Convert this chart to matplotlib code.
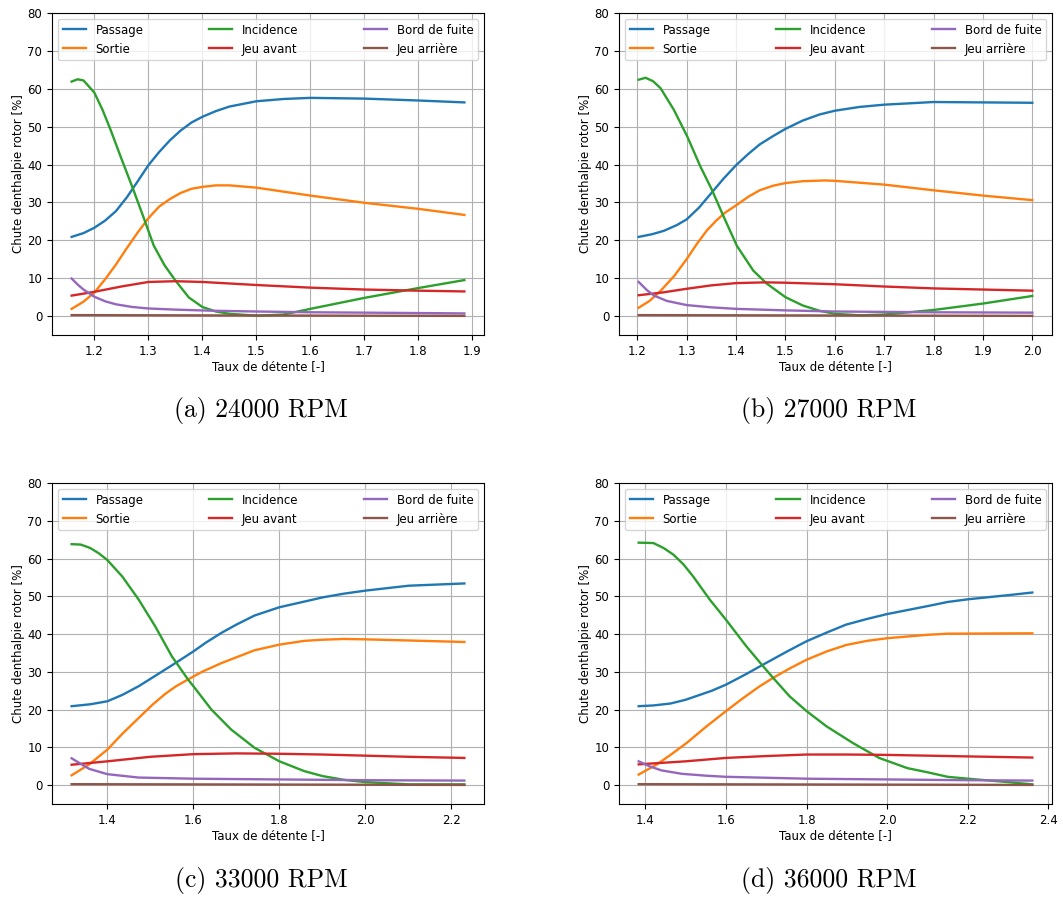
import matplotlib
matplotlib.use("Agg")
import matplotlib.pyplot as plt

W, H = 1063, 898

labels = ["Passage", "Sortie", "Incidence", "Jeu avant", "Bord de fuite", "Jeu arrière"]
colors = ["#1f77b4", "#ff7f0e", "#2ca02c", "#d62728", "#9467bd", "#8c564b"]

# ---- (a) 24000 RPM ----
a_pass_x = [1.158, 1.18, 1.2, 1.22, 1.24, 1.26, 1.28, 1.30, 1.32, 1.34, 1.36, 1.38, 1.40, 1.425, 1.45, 1.5, 1.55, 1.6, 1.7, 1.8, 1.885]
a_pass_y = [20.9, 21.9, 23.3, 25.2, 27.7, 31.3, 35.5, 39.8, 43.3, 46.4, 49.0, 51.1, 52.6, 54.1, 55.3, 56.7, 57.3, 57.6, 57.4, 56.9, 56.4]
a_sort_x = [1.158, 1.18, 1.2, 1.22, 1.24, 1.26, 1.28, 1.30, 1.32, 1.34, 1.36, 1.38, 1.40, 1.425, 1.45, 1.5, 1.6, 1.7, 1.8, 1.885]
a_sort_y = [1.9, 3.8, 6.2, 9.7, 13.6, 17.9, 22.0, 25.8, 28.9, 30.9, 32.5, 33.6, 34.1, 34.5, 34.5, 33.9, 31.8, 29.9, 28.3, 26.7]
a_inc_x = [1.158, 1.169, 1.18, 1.2, 1.215, 1.23, 1.25, 1.27, 1.29, 1.31, 1.33, 1.35, 1.375, 1.40, 1.425, 1.45, 1.5, 1.55, 1.6, 1.7, 1.8, 1.885]
a_inc_y = [61.9, 62.5, 62.2, 59.0, 54.5, 49.2, 41.6, 34.2, 26.5, 18.6, 13.4, 9.4, 4.9, 2.4, 1.2, 0.6, 0.1, 0.4, 1.9, 4.8, 7.4, 9.5]
a_jav_x = [1.158, 1.2, 1.25, 1.3, 1.35, 1.4, 1.5, 1.6, 1.7, 1.8, 1.885]
a_jav_y = [5.4, 6.4, 7.8, 9.0, 9.2, 9.0, 8.2, 7.5, 7.0, 6.7, 6.5]
a_bdf_x = [1.158, 1.17, 1.18, 1.2, 1.22, 1.24, 1.27, 1.3, 1.35, 1.42, 1.5, 1.6, 1.7, 1.885]
a_bdf_y = [9.9, 8.2, 7.0, 5.1, 3.9, 3.1, 2.4, 2.0, 1.7, 1.4, 1.2, 1.0, 0.9, 0.7]
a_jar_x = [1.158, 1.5, 1.885]
a_jar_y = [0.25, 0.15, 0.05]

# ---- (b) 27000 RPM ----
b_pass_x = [1.203, 1.23, 1.254, 1.28, 1.3, 1.325, 1.351, 1.375, 1.4, 1.425, 1.448, 1.475, 1.5, 1.535, 1.569, 1.6, 1.65, 1.7, 1.8, 1.9, 2.0]
b_pass_y = [20.9, 21.6, 22.5, 24.0, 25.5, 28.6, 32.6, 36.3, 39.8, 42.8, 45.3, 47.5, 49.4, 51.6, 53.2, 54.2, 55.2, 55.8, 56.5, 56.4, 56.3]
b_sort_x = [1.203, 1.225, 1.247, 1.275, 1.3, 1.32, 1.341, 1.36, 1.378, 1.4, 1.425, 1.448, 1.475, 1.5, 1.535, 1.58, 1.6, 1.7, 1.8, 1.9, 2.0]
b_sort_y = [2.2, 4.0, 6.6, 10.6, 15.0, 18.9, 22.6, 25.2, 27.3, 29.2, 31.5, 33.2, 34.4, 35.1, 35.6, 35.8, 35.7, 34.7, 33.2, 31.8, 30.6]
b_inc_x = [1.203, 1.217, 1.232, 1.247, 1.274, 1.301, 1.3275, 1.351, 1.3745, 1.402, 1.435, 1.462, 1.5, 1.535, 1.569, 1.6, 1.65, 1.7, 1.8, 1.9, 2.0]
b_inc_y = [62.4, 62.9, 62.0, 60.2, 54.5, 47.5, 39.6, 33.4, 26.4, 18.5, 12.0, 8.6, 5.0, 2.8, 1.4, 0.6, 0.2, 0.4, 1.6, 3.3, 5.3]
b_jav_x = [1.203, 1.25, 1.3, 1.35, 1.4, 1.46, 1.5, 1.6, 1.7, 1.8, 1.9, 2.0]
b_jav_y = [5.5, 6.2, 7.2, 8.1, 8.7, 8.9, 8.8, 8.4, 7.8, 7.3, 7.0, 6.7]
b_bdf_x = [1.203, 1.22, 1.234, 1.26, 1.3, 1.35, 1.4, 1.5, 1.6, 1.8, 2.0]
b_bdf_y = [9.0, 6.8, 5.4, 4.0, 2.9, 2.3, 1.9, 1.5, 1.2, 1.0, 0.9]
b_jar_x = [1.203, 1.6, 2.0]
b_jar_y = [0.25, 0.15, 0.05]

# ---- (c) 33000 RPM ----
c_pass_x = [1.317, 1.36, 1.4, 1.435, 1.473, 1.515, 1.558, 1.6, 1.63, 1.665, 1.7, 1.742, 1.8, 1.858, 1.9, 1.95, 2.0, 2.1, 2.23]
c_pass_y = [20.9, 21.4, 22.2, 23.9, 26.2, 29.2, 32.3, 35.4, 37.8, 40.3, 42.5, 44.9, 47.1, 48.6, 49.7, 50.7, 51.5, 52.8, 53.4]
c_sort_x = [1.317, 1.358, 1.4, 1.435, 1.473, 1.505, 1.535, 1.56, 1.588, 1.62, 1.665, 1.742, 1.8, 1.858, 1.9, 1.95, 2.0, 2.1, 2.23]
c_sort_y = [2.6, 5.5, 9.4, 13.6, 17.8, 21.3, 24.2, 26.2, 28.0, 30.0, 32.3, 35.7, 37.2, 38.2, 38.5, 38.7, 38.6, 38.3, 37.9]
c_inc_x = [1.317, 1.338, 1.36, 1.38, 1.4, 1.435, 1.473, 1.5115, 1.55, 1.588, 1.6, 1.642, 1.688, 1.742, 1.8, 1.858, 1.9, 1.95, 2.0, 2.1, 2.23]
c_inc_y = [63.8, 63.7, 62.8, 61.4, 59.6, 55.2, 49.1, 42.0, 34.1, 27.9, 26.2, 20.0, 14.7, 9.9, 6.3, 3.7, 2.4, 1.4, 0.8, 0.2, 0.2]
c_jav_x = [1.317, 1.4, 1.5, 1.6, 1.7, 1.8, 1.9, 2.0, 2.1, 2.23]
c_jav_y = [5.4, 6.3, 7.5, 8.2, 8.4, 8.3, 8.1, 7.8, 7.5, 7.2]
c_bdf_x = [1.317, 1.34, 1.358, 1.4, 1.473, 1.6, 1.8, 2.0, 2.23]
c_bdf_y = [7.1, 5.5, 4.3, 2.9, 2.0, 1.7, 1.5, 1.3, 1.2]
c_jar_x = [1.317, 1.8, 2.23]
c_jar_y = [0.25, 0.15, 0.05]

# ---- (d) 36000 RPM ----
d_pass_x = [1.3835, 1.42, 1.462, 1.5, 1.565, 1.6, 1.65, 1.692, 1.75, 1.8, 1.85, 1.898, 1.95, 2.0, 2.1, 2.15, 2.2, 2.3, 2.36]
d_pass_y = [20.9, 21.1, 21.6, 22.6, 25.0, 26.6, 29.4, 31.9, 35.3, 38.1, 40.4, 42.5, 44.0, 45.3, 47.4, 48.5, 49.2, 50.3, 51.0]
d_sort_x = [1.3835, 1.429, 1.465, 1.503, 1.55, 1.6, 1.642, 1.684, 1.717, 1.76, 1.8, 1.85, 1.898, 1.95, 2.0, 2.1, 2.15, 2.36]
d_sort_y = [2.8, 5.5, 8.2, 11.2, 15.4, 19.6, 23.0, 26.2, 28.4, 31.0, 33.2, 35.4, 37.1, 38.2, 38.9, 39.8, 40.1, 40.2]
d_inc_x = [1.3835, 1.42, 1.445, 1.47, 1.495, 1.519, 1.56, 1.6, 1.651, 1.692, 1.717, 1.758, 1.8, 1.849, 1.914, 1.98, 2.05, 2.1, 2.15, 2.2, 2.3, 2.36]
d_inc_y = [64.2, 64.1, 62.8, 61.0, 58.4, 55.2, 49.1, 43.8, 36.7, 31.5, 28.4, 23.5, 19.6, 15.6, 11.2, 7.2, 4.5, 3.4, 2.2, 1.7, 0.8, 0.2]
d_jav_x = [1.3835, 1.5, 1.6, 1.7, 1.8, 1.9, 2.0, 2.1, 2.2, 2.36]
d_jav_y = [5.5, 6.3, 7.2, 7.7, 8.1, 8.1, 8.0, 7.8, 7.6, 7.3]
d_bdf_x = [1.3835, 1.41, 1.44, 1.49, 1.55, 1.6, 1.8, 2.0, 2.2, 2.36]
d_bdf_y = [6.3, 5.0, 3.9, 3.0, 2.5, 2.2, 1.7, 1.5, 1.3, 1.2]
d_jar_x = [1.3835, 1.9, 2.36]
d_jar_y = [0.25, 0.15, 0.05]

captions = ["(a) 24000 RPM", "(b) 27000 RPM", "(c) 33000 RPM", "(d) 36000 RPM"]
xticks_a = [1.2, 1.3, 1.4, 1.5, 1.6, 1.7, 1.8, 1.9]
xticks_b = [1.2, 1.3, 1.4, 1.5, 1.6, 1.7, 1.8, 1.9, 2.0]
xticks_c = [1.4, 1.6, 1.8, 2.0, 2.2]
xticks_d = [1.4, 1.6, 1.8, 2.0, 2.2, 2.4]
yticks = [0, 10, 20, 30, 40, 50, 60, 70, 80]

panels = [
    [(a_pass_x, a_pass_y), (a_sort_x, a_sort_y), (a_inc_x, a_inc_y), (a_jav_x, a_jav_y), (a_bdf_x, a_bdf_y), (a_jar_x, a_jar_y)],
    [(b_pass_x, b_pass_y), (b_sort_x, b_sort_y), (b_inc_x, b_inc_y), (b_jav_x, b_jav_y), (b_bdf_x, b_bdf_y), (b_jar_x, b_jar_y)],
    [(c_pass_x, c_pass_y), (c_sort_x, c_sort_y), (c_inc_x, c_inc_y), (c_jav_x, c_jav_y), (c_bdf_x, c_bdf_y), (c_jar_x, c_jar_y)],
    [(d_pass_x, d_pass_y), (d_sort_x, d_sort_y), (d_inc_x, d_inc_y), (d_jav_x, d_jav_y), (d_bdf_x, d_bdf_y), (d_jar_x, d_jar_y)],
]
xticks_all = [xticks_a, xticks_b, xticks_c, xticks_d]

# axes boxes in pixels: left, top, right, bottom
boxes = [(52, 13, 484, 335), (619, 13, 1052, 335), (52, 483, 484, 804), (619, 483, 1052, 804)]
cap_pos = [(261, 411), (829, 411), (261, 881), (829, 881)]

fig = plt.figure(figsize=(W / 100, H / 100), dpi=100)
fs = 8.5

for i, (series, xt, box) in enumerate(zip(panels, xticks_all, boxes)):
    l, t, r, b = box
    ax = fig.add_axes([l / W, 1 - b / H, (r - l) / W, (b - t) / H])
    for (x, y), lab, c in zip(series, labels, colors):
        ax.plot(x, y, color=c, lw=1.7, label=lab, solid_joinstyle="round")
    ax.set_ylim(-5, 80)
    ax.set_yticks(yticks)
    ax.set_xticks(xt)
    ax.set_xticklabels([f"{v:.1f}" for v in xt])
    ax.tick_params(labelsize=fs)
    ax.grid(True, color="#b0b0b0", lw=0.8)
    ax.set_xlabel("Taux de détente [-]", fontsize=fs, labelpad=2)
    ax.set_ylabel("Chute denthalpie rotor [%]", fontsize=fs, labelpad=2)
    ax.legend(loc="upper left", bbox_to_anchor=(0, 0, 1, 1), mode="expand", ncol=3,
              fontsize=fs, handlelength=2.0, borderaxespad=0.5)
    cx, cy = cap_pos[i]
    fig.text(cx / W, 1 - cy / H, captions[i], ha="center", va="center",
             fontsize=18.5, family="cmr10")

fig.savefig("out.png", dpi=100)
